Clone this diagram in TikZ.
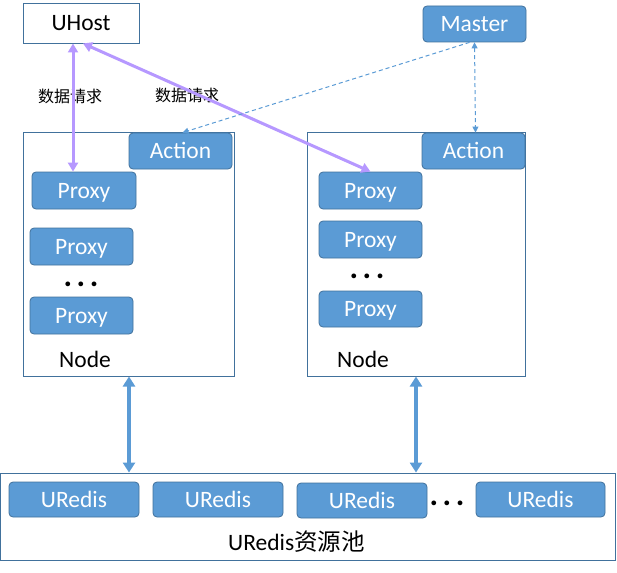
\documentclass[tikz,border=0pt]{standalone}
\usepackage{fontspec}
\setmainfont{Carlito}
\newfontfamily\cjk{Noto Sans CJK SC}
\usetikzlibrary{arrows.meta}
\definecolor{boxfill}{HTML}{5B9BD5}
\definecolor{boxline}{HTML}{41719C}
\definecolor{purp}{RGB}{182,152,255}
\begin{document}
\begin{tikzpicture}[x=1pt,y=-1pt,
  bigfont/.style={font=\fontsize{23.5}{26}\selectfont},
  bluebox/.style={draw=boxline, fill=boxfill, rounded corners=4pt, line width=0.8pt,
    text=white, bigfont, inner sep=0pt, minimum width=103pt, minimum height=36pt,
    text height=15pt, text depth=0pt},
  container/.style={draw=boxline, line width=0.9pt, inner sep=0pt},
  purparrow/.style={draw=purp, line width=3pt, {Triangle[length=9pt,width=10pt]}-{Triangle[length=9pt,width=10pt]}},
  bluearrow/.style={draw=boxfill, line width=3.4pt, {Triangle[length=10pt,width=12pt]}-{Triangle[length=10pt,width=12pt]}},
  dasharrow/.style={draw=boxfill, line width=1pt, dash pattern=on 4pt off 3pt},
  dashone/.style={dasharrow, -{Triangle[length=6pt,width=6pt]}},
  dashtwo/.style={dasharrow, {Triangle[length=6pt,width=6pt]}-{Triangle[length=6pt,width=6pt]}},
  cjklabel/.style={font=\cjk\fontsize{16}{18}\selectfont, inner sep=0pt},
  dotsnode/.style={font=\fontsize{32}{34}\selectfont\bfseries, inner sep=0pt}
]
\useasboundingbox (0,0) rectangle (617,572);

% containers
\node[container, minimum width=116pt, minimum height=40pt, bigfont, fill=white] (uhost) at (81,23) {UHost};
\node[container, minimum width=211pt, minimum height=244pt] (lnode) at (128.5,254) {};
\node[container, minimum width=218pt, minimum height=244pt] (rnode) at (416,254) {};
\node[container, minimum width=615pt, minimum height=87pt] (pool) at (308,516.5) {};

% blue boxes
\node[bluebox] (master) at (474.5,24) {Master};
\node[bluebox] (lact) at (180.5,151) {Action};
\node[bluebox] (ract) at (473.5,151) {Action};

\node[bluebox, minimum width=104pt, minimum height=37pt] (lp1) at (84,190.5) {Proxy};
\node[bluebox, minimum height=37pt] (lp2) at (81.5,246.5) {Proxy};
\node[dotsnode] (ldots) at (81,284) {.\hspace{4.5pt}.\hspace{4.5pt}.};
\node[bluebox, minimum height=37pt] (lp3) at (81.5,315.5) {Proxy};
\node[bigfont, inner sep=0pt] (lnl) at (85,359) {Node};

\node[bluebox, minimum height=37pt] (rp1) at (370.5,190.5) {Proxy};
\node[bluebox, minimum height=37pt] (rp2) at (370.5,239.5) {Proxy};
\node[dotsnode] (rdots) at (367,276) {.\hspace{4.5pt}.\hspace{4.5pt}.};
\node[bluebox] (rp3) at (370.5,309) {Proxy};
\node[bigfont, inner sep=0pt] (rnl) at (363,359) {Node};

\node[bluebox, minimum width=130pt, minimum height=35pt] (u1) at (74,499.5) {URedis};
\node[bluebox, minimum width=130pt, minimum height=35pt] (u2) at (218,499.5) {URedis};
\node[bluebox, minimum width=130pt, minimum height=35pt] (u3) at (362,500.5) {URedis};
\node[dotsnode] (udots) at (447,503) {.\hspace{4.5pt}.\hspace{4.5pt}.};
\node[bluebox, minimum width=129pt, minimum height=35pt] (u4) at (540.5,499.5) {URedis};
\node[bigfont, inner sep=0pt, anchor=base west] (pooll) at (228,550) {URedis{\cjk 资源池}};

% labels
\node[cjklabel] (req1) at (70,96) {数据请求};
\node[cjklabel] (req2) at (187,95) {数据请求};

% purple arrows
\coordinate (pv) at (73,43.5);
\draw[purparrow] (pv) -- (pv |- lp1.north);
\draw[purparrow] ([xshift=2pt]uhost.south) -- (rp1.north);

% dashed arrows
\draw[dashone] ([xshift=-5pt]master.south) -- ([xshift=2pt]lact.north);
\draw[dashtwo] (master.south) -- ([xshift=2pt]ract.north);

% blue arrows
\coordinate (la) at (129,376.5);
\coordinate (ra) at (416,376.5);
\draw[bluearrow] (la) -- (la |- pool.north);
\draw[bluearrow] (ra) -- (ra |- pool.north);
\end{tikzpicture}
\end{document}
